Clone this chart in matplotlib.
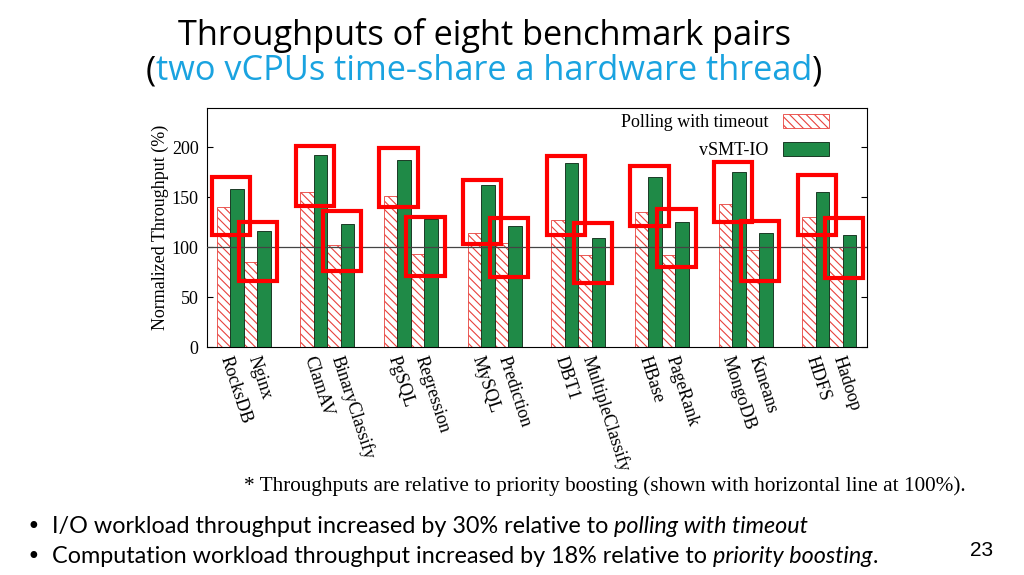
import numpy as np
import matplotlib.pyplot as plt
import matplotlib.transforms as mtransforms
from matplotlib import font_manager
from matplotlib.patches import Rectangle

# benchmark pairs (I/O workload, computation workload)
benchmarks = ['RocksDB', 'Nginx', 'ClamAV', 'BinaryClassify', 'PgSQL', 'Regression',
              'MySQL', 'Prediction', 'DBT1', 'MultipleClassify', 'HBase', 'PageRank',
              'MongoDB', 'Kmeans', 'HDFS', 'Hadoop']
polling = [140, 85, 155, 102, 151, 93, 114, 104, 127, 92, 135, 92, 143, 97, 130, 100]
vsmt = [158, 116, 192, 123, 187, 128, 162, 121, 184, 109, 170, 125, 175, 114, 155, 112]
# red highlight boxes (value range they cover)
box_top = [170, 125, 201, 136, 199, 130, 167, 129, 191, 124, 181, 138, 185, 126, 172, 129]
box_bottom = [112, 66, 141, 76, 140, 71, 103, 70, 112, 64, 121, 80, 125, 66, 112, 69]
yticks = [0, 50, 100, 150, 200]

available = {f.name for f in font_manager.fontManager.ttflist}
def pick(cands):
    for c in cands:
        if c in available:
            return c
    return 'DejaVu Sans'

def weight_num(w):
    if isinstance(w, int):
        return w
    return {'normal': 400, 'regular': 400, 'book': 400}.get(str(w).lower(), 0)

# a regular-weight condensed humanist face for the title, if one is installed
title_prop = None
for f in font_manager.fontManager.ttflist:
    if (f.name.startswith('Open Sans') or f.name.startswith('Noto Sans')) \
            and 'CJK' not in f.name and f.style == 'normal' \
            and weight_num(f.weight) == 400 \
            and (f.stretch in ('condensed', 'semi-condensed') or 'Condensed' in f.name):
        title_prop = font_manager.FontProperties(fname=f.fname)
        break
if title_prop is None:
    title_prop = font_manager.FontProperties(family=pick(['Open Sans', 'Noto Sans']))

serif = pick(['Liberation Serif', 'DejaVu Serif'])
body_font = pick(['Liberation Sans Narrow', 'Lato', 'Open Sans'])

plt.rcParams['hatch.linewidth'] = 0.8

fig = plt.figure(figsize=(10.24, 5.75), dpi=100)
W, H = 1024, 575
ax = fig.add_axes([207 / W, 1 - 347 / H, 660 / W, 239 / H])

pitch = 6.2
n = len(benchmarks)
left = np.array([(i // 2) * pitch + 2 * (i % 2) for i in range(n)])

ax.bar(left, polling, width=1, align='edge', color='white', edgecolor='#e8413c',
       hatch='\\\\\\\\', linewidth=0.6, label='Polling with timeout', zorder=2)
ax.bar(left + 1, vsmt, width=1, align='edge', color='#1f8a47', edgecolor='#1b3a26',
       linewidth=0.7, label='vSMT-IO', zorder=2)
ax.axhline(100, color='#444444', linewidth=0.9, zorder=3)

for i in range(n):
    ax.add_patch(Rectangle((left[i] - 0.35, box_bottom[i]), 2.85, box_top[i] - box_bottom[i],
                           fill=False, edgecolor='#ff0000', linewidth=3, zorder=4))

ax.set_xlim(-0.72, 48.2)
ax.set_ylim(0, 239)
ax.set_yticks(yticks)
ax.tick_params(axis='y', direction='in', length=4, right=True, labelsize=13, pad=6)
for lab in ax.get_yticklabels():
    lab.set_fontfamily(serif)
ax.set_xticks(left + 1)
ax.set_xticklabels(benchmarks, rotation=-72, ha='left', va='center',
                   rotation_mode='anchor', fontsize=13, fontfamily=serif)
ax.tick_params(axis='x', length=0, pad=7)
shift = mtransforms.ScaledTranslation(-5 / 100, 0, fig.dpi_scale_trans)
for lab in ax.get_xticklabels():
    lab.set_transform(lab.get_transform() + shift)
ax.set_ylabel('Normalized Throughput (%)', fontsize=13, fontfamily=serif, labelpad=2)
for s in ax.spines.values():
    s.set_linewidth(0.8)

leg = ax.legend(loc='upper right', bbox_to_anchor=((829 - 207) / 660, (347 - 114) / 239),
                frameon=False, markerfirst=False, handlelength=2.55, handleheight=0.8,
                borderaxespad=0, borderpad=0, labelspacing=0.6, handletextpad=0.8,
                prop={'family': serif, 'size': 13})

# ---- slide texts
px = mtransforms.IdentityTransform()
fig.canvas.draw()
r = fig.canvas.get_renderer()

def fit(t, width):
    w = t.get_window_extent(r).width
    t.set_fontsize(t.get_fontsize() * width / w)

def row(x, y, pieces, size, prop, center=False):
    texts = []
    for s, style, color in pieces:
        p = prop.copy()
        p.set_style(style)
        p.set_size(size)
        texts.append(fig.text(0, H - y, s, color=color, fontproperties=p,
                              transform=px, va='baseline'))
    widths = [t.get_window_extent(r).width for t in texts]
    if center:
        x = x - sum(widths) / 2
    for t, w in zip(texts, widths):
        t.set_x(x)
        x += w
    return texts

tp = title_prop.copy()
tp.set_size(24)
t1 = fig.text(484, H - 45, 'Throughputs of eight benchmark pairs', ha='center', va='baseline',
              fontproperties=tp, color='black', transform=px)
fit(t1, 618)
title_size = t1.get_fontsize()
row(484, 80, [('(', 'normal', 'black'), ('two vCPUs time-share a hardware thread', 'normal', '#1aa3e0'),
              (')', 'normal', 'black')], title_size, title_prop, center=True)

fn = fig.text(244, H - 491, '* Throughputs are relative to priority boosting (shown with horizontal line at 100%).',
              fontsize=14, fontfamily=serif, transform=px, va='baseline')
fit(fn, 724)

body_prop = font_manager.FontProperties(family=body_font)
b1 = fig.text(52, H - 533, 'I/O workload throughput increased by 30% relative to polling with timeout',
              fontsize=15, fontproperties=body_prop, transform=px, va='baseline')
b1.set_fontsize(15)
fit(b1, 771)
bsize = b1.get_fontsize()
b1.remove()
row(52, 533, [('I/O workload throughput increased by 30% relative to ', 'normal', 'black'),
              ('polling with timeout', 'italic', 'black')], bsize, body_prop)
row(52, 563, [('Computation workload throughput increased by 18% relative to ', 'normal', 'black'),
              ('priority boosting', 'italic', 'black'), ('.', 'normal', 'black')], bsize, body_prop)
for yb in (533, 563):
    fig.text(27, H - yb, '\u2022', fontsize=bsize, fontfamily='DejaVu Sans', transform=px, va='baseline')

fig.text(982, H - 556, '23', ha='center', va='baseline', fontsize=15,
         fontfamily=pick(['Liberation Sans', 'DejaVu Sans']), transform=px)

fig.savefig('out.png', dpi=100)
